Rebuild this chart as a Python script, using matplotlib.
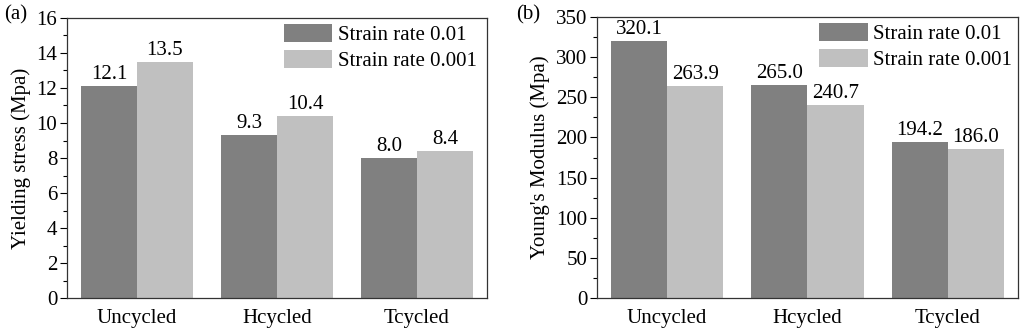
import numpy as np
import matplotlib
matplotlib.use('Agg')
import matplotlib.pyplot as plt
from matplotlib.ticker import MultipleLocator

categories = ['Uncycled', 'Hcycled', 'Tcycled']
series_labels = ['Strain rate 0.01', 'Strain rate 0.001']
yield_fast = [12.1, 9.3, 8.0]
yield_slow = [13.5, 10.4, 8.4]
modulus_fast = [320.1, 265.0, 194.2]
modulus_slow = [263.9, 240.7, 186.0]

colors = ['#808080', '#c0c0c0']

plt.rcParams['font.family'] = ['Liberation Serif', 'DejaVu Serif']
plt.rcParams['font.size'] = 15

fig = plt.figure(figsize=(10.24, 3.35), dpi=100)
ax1 = fig.add_axes([0.0654, 0.1104, 0.4102, 0.8359])
ax2 = fig.add_axes([0.5830, 0.1104, 0.4111, 0.8389])


def draw_panel(ax, fast, slow, ylim, major, minor, ylabel, anchor):
    x = np.arange(len(categories))
    w = 0.4
    b1 = ax.bar(x - w / 2, fast, w, color=colors[0], label=series_labels[0])
    b2 = ax.bar(x + w / 2, slow, w, color=colors[1], label=series_labels[1])
    for bars, vals in ((b1, fast), (b2, slow)):
        for rect, v in zip(bars, vals):
            ax.annotate('{0:.1f}'.format(v),
                        (rect.get_x() + rect.get_width() / 2, rect.get_height()),
                        xytext=(0, 1.5), textcoords='offset points',
                        ha='center', va='bottom', fontsize=15)
    ax.set_xlim(-0.5, 2.5)
    ax.set_ylim(*ylim)
    ax.set_xticks(x)
    ax.set_xticklabels(categories)
    ax.tick_params(axis='x', length=0, pad=8)
    ax.yaxis.set_major_locator(MultipleLocator(major))
    ax.yaxis.set_minor_locator(MultipleLocator(minor))
    ax.tick_params(axis='y', which='major', direction='out', length=5, width=0.8, pad=2)
    ax.tick_params(axis='y', which='minor', direction='out', length=3, width=0.8)
    ax.set_ylabel(ylabel, labelpad=4)
    for s in ax.spines.values():
        s.set_linewidth(0.9)
        s.set_color('#333333')
    ax.legend(loc='upper right', bbox_to_anchor=anchor, frameon=False,
              handlelength=2.35, handleheight=0.92, labelspacing=0.25,
              handletextpad=0.25, borderaxespad=0.1, borderpad=0.2)


draw_panel(ax1, yield_fast, yield_slow, (0, 16), 2, 1, 'Yielding stress (Mpa)', (0.99, 1.0))
draw_panel(ax2, modulus_fast, modulus_slow, (0, 350), 50, 25, "Young's Modulus (Mpa)", (1.0, 1.0))

fig.text(0.004, 0.955, '(a)', fontsize=15, va='center')
fig.text(0.504, 0.955, '(b)', fontsize=15, va='center')

plt.savefig('out.png', dpi=100)
